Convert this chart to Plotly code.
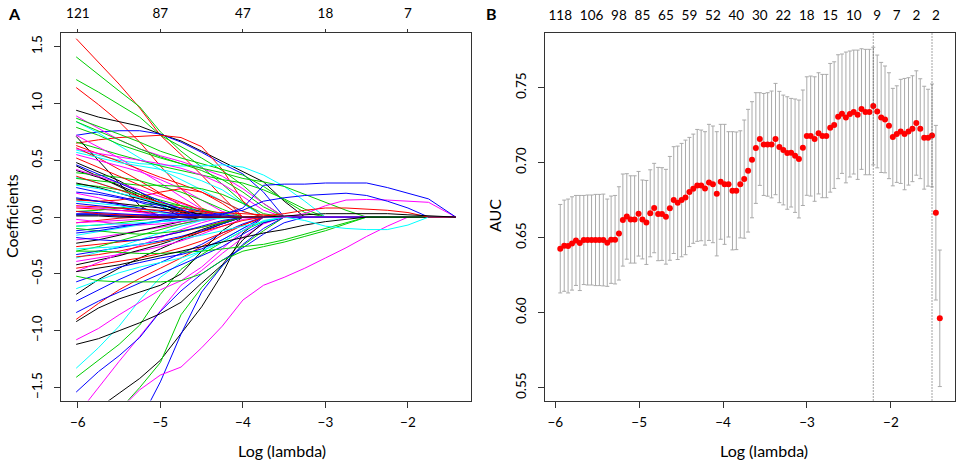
import plotly.graph_objects as go

# ---------------- Panel A: coefficient paths ----------------
# knots along log(lambda) where path values were read
path_knots = [-6.02, -5.75, -5.5, -5.25, -5.0, -4.75, -4.5, -4.25, -4.0, -3.75,
              -3.5, -3.25, -3.0, -2.75, -2.5, -2.25, -2.0, -1.75, -1.42]
df_ticks = [-6, -5, -4, -3, -2]
df_labels = ["121", "87", "47", "18", "7"]

# each list stops once the coefficient has dropped to zero
big_pos_colors = ["red", "green", "green", "red", "black", "blue", "red", "magenta",
                  "green", "cyan", "cyan", "green", "green", "magenta", "black",
                  "green", "red", "red", "cyan", "magenta", "magenta"]
big_pos_paths = [
    [1.57, 1.36, 1.17, 0.96, 0.72, 0.55, 0.37, 0.18, 0],
    [1.41, 1.25, 1.11, 0.97, 0.75, 0.58, 0.44, 0.29, 0.13, 0],
    [1.21, 1.10, 0.99, 0.88, 0.72, 0.62, 0.52, 0.41, 0.28, 0.12, 0],
    [1.14, 0.99, 0.84, 0.66, 0.45, 0.25, 0.08, 0],
    [0.94, 0.88, 0.84, 0.80, 0.73, 0.67, 0.58, 0.49, 0.40, 0.31, 0.14, 0],
    [0.72, 0.75, 0.76, 0.76, 0.73, 0.66, 0.57, 0.47, 0.38, 0.22, 0],
    [0.65, 0.68, 0.70, 0.71, 0.72, 0.70, 0.62, 0.42, 0.14, 0],
    [0.89, 0.78, 0.68, 0.60, 0.54, 0.49, 0.43, 0.36, 0.25, 0.12, 0],
    [0.87, 0.80, 0.73, 0.66, 0.58, 0.52, 0.47, 0.42, 0.37, 0.27, 0.15, 0.04, 0],
    [0.59, 0.54, 0.50, 0.47, 0.46, 0.45, 0.45, 0.46, 0.44, 0.37, 0.27, 0.14, 0],
    [0.84, 0.74, 0.63, 0.52, 0.42, 0.33, 0.24, 0.14, 0.05, 0],
    [0.79, 0.72, 0.64, 0.58, 0.52, 0.47, 0.43, 0.39, 0.34, 0.31, 0.27, 0.20, 0.13, 0.06, 0],
    [0.66, 0.60, 0.55, 0.50, 0.45, 0.41, 0.37, 0.33, 0.30, 0.24, 0.16, 0.07, 0],
    [0.72, 0.62, 0.52, 0.41, 0.30, 0.18, 0.07, 0],
    [0.71, 0.50, 0.30, 0.10, 0],
    [0.84, 0.76, 0.68, 0.60, 0.53, 0.47, 0.41, 0.33, 0.22, 0.09, 0],
    [0.61, 0.52, 0.42, 0.32, 0.21, 0.10, 0],
    [0.63, 0.56, 0.49, 0.42, 0.35, 0.29, 0.22, 0.14, 0.05, 0],
    [0.57, 0.52, 0.48, 0.45, 0.42, 0.38, 0.32, 0.24, 0.12, 0],
    [0.60, 0.56, 0.53, 0.50, 0.47, 0.43, 0.37, 0.29, 0.18, 0.06, 0],
    [0.55, 0.50, 0.45, 0.40, 0.33, 0.25, 0.15, 0.05, 0],
]

small_pos_colors = ["black", "black", "black", "green", "cyan", "green", "blue", "magenta",
                    "black", "red", "blue", "red", "green", "blue", "green", "magenta",
                    "black", "blue", "cyan", "red", "cyan", "magenta", "red", "blue",
                    "black", "red", "blue"]
small_pos_paths = [
    [0.48, 0.40, 0.32, 0.22, 0.12, 0.04, 0],
    [0.45, 0.36, 0.27, 0.18, 0.10, 0],
    [0.41, 0.35, 0.28, 0.20, 0.12, 0.05, 0],
    [0.39, 0.37, 0.35, 0.32, 0.27, 0.22, 0.15, 0.07, 0],
    [0.35, 0.30, 0.24, 0.17, 0.10, 0.03, 0],
    [0.29, 0.27, 0.24, 0.20, 0.15, 0.10, 0.05, 0],
    [0.22, 0.20, 0.17, 0.13, 0.08, 0.03, 0],
    [0.21, 0.17, 0.12, 0.06, 0],
    [0.16, 0.14, 0.12, 0.10, 0.08, 0.05, 0.03, 0.01, 0],
    [0.15, 0.14, 0.15, 0.18, 0.22, 0.25, 0.22, 0.12, 0],
    [0.12, 0.10, 0.08, 0.05, 0.02, 0],
    [0.08, 0.07, 0.06, 0.05, 0.04, 0.03, 0.02, 0],
    [0.05, 0.06, 0.08, 0.10, 0.12, 0.10, 0.07, 0.03, 0],
    [0.26, 0.22, 0.18, 0.14, 0.10, 0.08, 0.05, 0.02, 0],
    [0.34, 0.32, 0.30, 0.28, 0.28, 0.27, 0.25, 0.20, 0.12, 0.03, 0],
    [0.42, 0.36, 0.30, 0.24, 0.18, 0.12, 0.06, 0],
    [0.30, 0.26, 0.21, 0.16, 0.11, 0.06, 0.02, 0],
    [0.17, 0.14, 0.11, 0.08, 0.05, 0.02, 0],
    [0.14, 0.12, 0.10, 0.07, 0.04, 0],
    [0.10, 0.09, 0.08, 0.07, 0.06, 0.05, 0.05, 0.04, 0.03, 0.02, 0],
    [0.28, 0.25, 0.21, 0.17, 0.12, 0.08, 0.04, 0],
    [0.09, 0.08, 0.06, 0.04, 0.02, 0],
    [0.52, 0.44, 0.36, 0.28, 0.20, 0.13, 0.06, 0],
    [0.05, 0.04, 0.03, 0.02, 0],
    [0.02, 0.02, 0.01, 0],
    [0.36, 0.30, 0.24, 0.18, 0.13, 0.08, 0.04, 0],
    [0.46, 0.38, 0.30, 0.22, 0.14, 0.07, 0],
]

big_neg_colors = ["black", "green", "blue", "magenta", "blue", "green", "cyan", "black",
                  "magenta", "red", "black", "black", "blue", "blue", "cyan", "blue"]
big_neg_paths = [
    [-1.85, -1.68, -1.55, -1.42, -1.26, -1.03, -0.79, -0.50, -0.14, 0],
    [-2.20, -1.95, -1.70, -1.50, -1.28, -0.86, -0.62, -0.43, -0.25, -0.12, 0],
    [-2.80, -2.40, -2.10, -1.80, -1.45, -1.03, -0.66, -0.43, -0.24, -0.10, 0],
    [-1.75, -1.50, -1.27, -1.05, -0.83, -0.60, -0.47, -0.32, -0.18, -0.06, 0],
    [-1.54, -1.36, -1.22, -1.06, -0.83, -0.65, -0.50, -0.38, -0.27, -0.15, -0.05, 0],
    [-1.41, -1.26, -1.12, -0.95, -0.68, -0.46, -0.33, -0.22, -0.12, -0.04, 0],
    [-1.33, -1.15, -0.96, -0.73, -0.53, -0.40, -0.30, -0.20, -0.10, 0],
    [-1.12, -1.07, -1.00, -0.93, -0.85, -0.75, -0.58, -0.42, -0.20, -0.05, 0],
    [-1.08, -0.98, -0.86, -0.75, -0.64, -0.56, -0.44, -0.28, -0.12, 0],
    [-0.90, -0.76, -0.64, -0.54, -0.45, -0.36, -0.26, -0.16, -0.07, 0],
    [-0.92, -0.80, -0.72, -0.66, -0.60, -0.50, -0.30, -0.12, 0],
    [-0.68, -0.55, -0.45, -0.36, -0.28, -0.20, -0.13, -0.06, 0],
    [-0.84, -0.74, -0.66, -0.58, -0.50, -0.42, -0.34, -0.26, -0.15, -0.05, 0],
    [-0.74, -0.64, -0.55, -0.47, -0.40, -0.32, -0.24, -0.14, -0.06, 0],
    [-0.63, -0.56, -0.49, -0.44, -0.40, -0.36, -0.30, -0.22, -0.12, -0.03, 0],
    [-0.57, -0.50, -0.44, -0.40, -0.36, -0.33, -0.28, -0.20, -0.10, 0],
]

small_neg_colors = ["red", "green", "blue", "cyan", "magenta", "black", "red", "green",
                    "blue", "cyan", "magenta", "black", "red", "magenta", "green", "blue",
                    "cyan", "red", "magenta", "blue"]
small_neg_paths = [
    [-0.05, -0.03, -0.01, 0],
    [-0.08, -0.07, -0.05, -0.03, -0.01, 0],
    [-0.12, -0.10, -0.08, -0.06, -0.04, -0.02, 0],
    [-0.16, -0.13, -0.10, -0.07, -0.04, 0],
    [-0.20, -0.18, -0.15, -0.12, -0.09, -0.06, -0.03, 0],
    [-0.23, -0.20, -0.16, -0.12, -0.08, -0.04, 0],
    [-0.26, -0.24, -0.22, -0.20, -0.17, -0.13, -0.09, -0.04, 0],
    [-0.30, -0.26, -0.21, -0.16, -0.11, -0.06, -0.02, 0],
    [-0.33, -0.30, -0.27, -0.24, -0.21, -0.17, -0.12, -0.06, 0],
    [-0.36, -0.31, -0.26, -0.20, -0.14, -0.08, -0.03, 0],
    [-0.39, -0.36, -0.33, -0.30, -0.26, -0.21, -0.15, -0.08, -0.02, 0],
    [-0.42, -0.38, -0.34, -0.29, -0.24, -0.18, -0.11, -0.05, 0],
    [-0.45, -0.42, -0.39, -0.36, -0.32, -0.27, -0.21, -0.14, -0.07, 0],
    [-0.48, -0.40, -0.32, -0.25, -0.18, -0.11, -0.05, 0],
    [-0.10, -0.12, -0.14, -0.15, -0.14, -0.12, -0.09, -0.05, 0],
    [-0.18, -0.20, -0.21, -0.20, -0.17, -0.13, -0.08, -0.03, 0],
    [-0.28, -0.27, -0.26, -0.24, -0.22, -0.19, -0.16, -0.12, -0.08, -0.04, 0],
    [-0.35, -0.33, -0.30, -0.26, -0.22, -0.18, -0.13, -0.08, -0.03, 0],
    [-0.02, -0.04, -0.06, -0.07, -0.06, -0.04, -0.02, 0],
    [-0.14, -0.12, -0.09, -0.06, -0.03, 0],
]

# variables that stay in the model longest
late_colors = ["magenta", "green", "green", "black", "cyan", "magenta", "blue", "blue",
               "red", "black"]
late_paths = [
    [-2.10, -1.90, -1.70, -1.52, -1.39, -1.32, -1.15, -0.96, -0.73, -0.60,
     -0.53, -0.45, -0.36, -0.27, -0.17, -0.08, 0],
    [-0.52, -0.56, -0.57, -0.57, -0.57, -0.56, -0.50, -0.38, -0.30, -0.26,
     -0.22, -0.17, -0.12, -0.06, 0],
    [-0.30, -0.30, -0.31, -0.32, -0.32, -0.31, -0.30, -0.28, -0.26, -0.24,
     -0.20, -0.15, -0.10, -0.05, 0],
    [-0.48, -0.45, -0.42, -0.38, -0.34, -0.30, -0.26, -0.22, -0.18, -0.14,
     -0.11, -0.07, -0.04, -0.02, 0],
    [-0.08, -0.07, -0.06, -0.05, -0.04, -0.03, -0.02, -0.01, 0, 0,
     0, -0.03, -0.08, -0.10, -0.11, -0.11, -0.07, 0],
    [-0.05, -0.04, -0.03, -0.02, -0.01, 0, 0, 0, 0, 0,
     0, 0.03, 0.10, 0.15, 0.155, 0.15, 0.14, 0.13, 0],
    [0.03, 0.03, 0.02, 0.02, 0.02, 0.02, 0.02, 0.03, 0.06, 0.14,
     0.17, 0.19, 0.20, 0.21, 0.19, 0.14, 0.08, 0],
    [0.02, 0.02, 0.01, 0.01, 0.01, 0.01, 0.01, 0.02, 0.08, 0.28,
     0.29, 0.29, 0.30, 0.30, 0.30, 0.26, 0.21, 0.16, 0],
    [0.05, 0.03, 0.02, 0.01, 0, 0, 0, 0, 0, 0.01,
     0.03, 0.06, 0.08, 0.08, 0.07, 0.06, 0.04, 0],
    [0.01, 0.01, 0, 0, 0, 0, 0, 0, 0, 0,
     0.01, 0.02, 0.03, 0.03, 0.03, 0.03, 0.02, 0.01, 0],
]

# ---------------- Panel B: cross-validated AUC ----------------
log_lambda = [
    -5.940, -5.893, -5.847, -5.800, -5.753, -5.707, -5.660, -5.614, -5.567, -5.520,
    -5.474, -5.427, -5.380, -5.334, -5.287, -5.241, -5.194, -5.147, -5.101, -5.054,
    -5.007, -4.961, -4.914, -4.868, -4.821, -4.774, -4.728, -4.681, -4.634, -4.588,
    -4.541, -4.494, -4.448, -4.401, -4.355, -4.308, -4.261, -4.215, -4.168, -4.121,
    -4.075, -4.028, -3.982, -3.935, -3.888, -3.842, -3.795, -3.748, -3.702, -3.655,
    -3.609, -3.562, -3.515, -3.469, -3.422, -3.375, -3.329, -3.282, -3.235, -3.189,
    -3.142, -3.096, -3.049, -3.002, -2.956, -2.909, -2.862, -2.816, -2.769, -2.723,
    -2.676, -2.629, -2.583, -2.536, -2.489, -2.443, -2.396, -2.350, -2.303, -2.256,
    -2.210, -2.163, -2.116, -2.070, -2.023, -1.977, -1.930, -1.883, -1.837, -1.790,
    -1.743, -1.697, -1.650, -1.603, -1.557, -1.510, -1.464, -1.417]
auc_mean = [
    0.6427, 0.6447, 0.6445, 0.6462, 0.6482, 0.6465, 0.6485, 0.6485, 0.6485, 0.6485,
    0.6485, 0.6485, 0.6467, 0.6487, 0.6487, 0.6529, 0.6618, 0.6642, 0.6622, 0.6622,
    0.6660, 0.6622, 0.6602, 0.6663, 0.6698, 0.6658, 0.6658, 0.6640, 0.6696, 0.6751,
    0.6733, 0.6751, 0.6769, 0.6805, 0.6827, 0.6849, 0.6849, 0.6829, 0.6869, 0.6856,
    0.6793, 0.6873, 0.6856, 0.6856, 0.6813, 0.6813, 0.6856, 0.6891, 0.6947, 0.7020,
    0.7098, 0.7158, 0.7122, 0.7122, 0.7122, 0.7158, 0.7105, 0.7085, 0.7065, 0.7067,
    0.7047, 0.7025, 0.7100, 0.7178, 0.7178, 0.7158, 0.7196, 0.7178, 0.7178, 0.7233,
    0.7251, 0.7307, 0.7327, 0.7302, 0.7325, 0.7338, 0.7320, 0.7358, 0.7338, 0.7338,
    0.7378, 0.7342, 0.7302, 0.7289, 0.7247, 0.7171, 0.7191, 0.7209, 0.7191, 0.7209,
    0.7227, 0.7265, 0.7227, 0.7167, 0.7167, 0.7182, 0.6667, 0.5963]
auc_sd = [
    0.0295, 0.0304, 0.0313, 0.0311, 0.0300, 0.0317, 0.0297, 0.0300, 0.0300, 0.0304,
    0.0304, 0.0306, 0.0291, 0.0291, 0.0295, 0.0311, 0.0307, 0.0285, 0.0291, 0.0291,
    0.0282, 0.0263, 0.0280, 0.0290, 0.0298, 0.0311, 0.0309, 0.0316, 0.0346, 0.0356,
    0.0378, 0.0378, 0.0382, 0.0364, 0.0364, 0.0373, 0.0369, 0.0378, 0.0387, 0.0389,
    0.0414, 0.0383, 0.0400, 0.0351, 0.0394, 0.0392, 0.0357, 0.0394, 0.0409, 0.0387,
    0.0369, 0.0309, 0.0340, 0.0345, 0.0356, 0.0371, 0.0371, 0.0366, 0.0375, 0.0362,
    0.0378, 0.0393, 0.0385, 0.0395, 0.0400, 0.0415, 0.0404, 0.0411, 0.0411, 0.0429,
    0.0422, 0.0413, 0.0398, 0.0436, 0.0420, 0.0413, 0.0431, 0.0402, 0.0418, 0.0418,
    0.0392, 0.0376, 0.0367, 0.0356, 0.0353, 0.0325, 0.0322, 0.0347, 0.0371, 0.0358,
    0.0353, 0.0348, 0.0333, 0.0343, 0.0323, 0.0343, 0.0582, 0.0455]
# number of non-zero coefficients, shown above the lambdas R left room for
nz_labels = ["118", "106", "98", "85", "65", "59", "52", "40", "30", "22",
             "18", "15", "10", "9", "7", "2", "2"]
nz_label_idx = [0, 8, 15, 21, 27, 33, 39, 45, 51, 57, 63, 69, 75, 81, 86, 91, 96]
lambda_min_idx = 80
lambda_1se_idx = 95

R_COLORS = {"black": "#000000", "red": "#FF0000", "green": "#00CD00",
            "blue": "#0000FF", "cyan": "#00FFFF", "magenta": "#FF00FF"}

W, H = 957, 475
FONT = "Lato, 'Open Sans', sans-serif"
AXIS_COLOR = "#333333"


def px_x(p):
    return p / W


def px_y(p):
    return 1 - p / H


fig = go.Figure()

# coefficient paths
groups = [(big_pos_paths, big_pos_colors), (small_pos_paths, small_pos_colors),
          (big_neg_paths, big_neg_colors), (small_neg_paths, small_neg_colors),
          (late_paths, late_colors)]
for paths, colors in groups:
    for vals, col in zip(paths, colors):
        xs = path_knots[:len(vals)]
        ys = list(vals)
        if len(vals) < len(path_knots):
            xs = xs + [path_knots[-1]]
            ys = ys + [0]
        fig.add_trace(go.Scatter(
            x=xs, y=ys, mode="lines", xaxis="x", yaxis="y",
            line=dict(color=R_COLORS[col], width=1),
            hoverinfo="skip", showlegend=False))

# dummy traces so the top axes get drawn
fig.add_trace(go.Scatter(x=[None], y=[None], xaxis="x3", yaxis="y",
                         showlegend=False, hoverinfo="skip"))
fig.add_trace(go.Scatter(x=[None], y=[None], xaxis="x4", yaxis="y2",
                         showlegend=False, hoverinfo="skip"))

# AUC with error bars
fig.add_trace(go.Scatter(
    x=log_lambda, y=auc_mean, mode="markers", xaxis="x2", yaxis="y2",
    marker=dict(color="#FF0000", size=6),
    error_y=dict(type="data", array=auc_sd, symmetric=True,
                 color="#AAAAAA", thickness=1, width=2),
    showlegend=False))

# lambda.min and lambda.1se
for idx in (lambda_min_idx, lambda_1se_idx):
    fig.add_shape(type="line", xref="x2", yref="y2 domain",
                  x0=log_lambda[idx], x1=log_lambda[idx], y0=0, y1=1,
                  line=dict(color="#444444", width=1, dash="1px,2px"))

domA_x = [px_x(61), px_x(471)]
domB_x = [px_x(545), px_x(955)]
dom_y = [px_y(400.5), px_y(33)]

tick_font = dict(family=FONT, size=13.5, color="black")
common_axis = dict(showline=True, linecolor=AXIS_COLOR, linewidth=1, mirror=True,
                   ticks="outside", ticklen=6, tickcolor=AXIS_COLOR,
                   showgrid=False, zeroline=False, tickfont=tick_font)

fig.update_layout(
    width=W, height=H,
    margin=dict(l=0, r=0, t=0, b=0),
    paper_bgcolor="white", plot_bgcolor="white",
    font=dict(family=FONT, color="black"),
    xaxis=dict(domain=domA_x, anchor="y", range=[-6.204, -1.236],
               tickvals=[-6, -5, -4, -3, -2], ticklabelstandoff=3, **common_axis),
    yaxis=dict(domain=dom_y, anchor="x", range=[-1.614, 1.62],
               tickvals=[-1.5, -1.0, -0.5, 0.0, 0.5, 1.0, 1.5], tickformat=".1f",
               tickangle=-90, ticklabelstandoff=7, **common_axis),
    xaxis3=dict(overlaying="x", side="top", anchor="y", range=[-6.204, -1.236],
                tickvals=df_ticks, ticktext=df_labels, ticks="outside", ticklen=3,
                tickcolor=AXIS_COLOR, showline=False, showgrid=False, zeroline=False,
                tickfont=tick_font, ticklabelstandoff=6, tickangle=0),
    xaxis2=dict(domain=domB_x, anchor="y2", range=[-6.122, -1.236],
                tickvals=[-6, -5, -4, -3, -2], ticklabelstandoff=3, **common_axis),
    yaxis2=dict(domain=dom_y, anchor="x2", range=[0.5415, 0.7865],
                tickvals=[0.55, 0.60, 0.65, 0.70, 0.75], tickformat=".2f",
                tickangle=-90, ticklabelstandoff=7, **common_axis),
    xaxis4=dict(overlaying="x2", side="top", anchor="y2", range=[-6.122, -1.236],
                tickvals=[log_lambda[i] for i in nz_label_idx], ticktext=nz_labels,
                ticks="", showline=False, showgrid=False, zeroline=False,
                tickfont=tick_font, ticklabelstandoff=9, tickangle=0),
)

title_font = dict(family=FONT, size=16, color="black")
annotations = [
    dict(text="<b>A</b>", x=px_x(14), y=px_y(13)),
    dict(text="<b>B</b>", x=px_x(491), y=px_y(13)),
    dict(text="Coefficients", x=px_x(12), y=px_y(216), textangle=-90),
    dict(text="AUC", x=px_x(495), y=px_y(216), textangle=-90),
    dict(text="Log (lambda)", x=px_x(282), y=px_y(450)),
    dict(text="Log (lambda)", x=px_x(764), y=px_y(450)),
]
for a in annotations:
    fig.add_annotation(xref="paper", yref="paper", showarrow=False,
                       xanchor="center", yanchor="middle", font=title_font, **a)

# the page must not add its own margin around the fixed-size figure
fig.write_html("out.html", config={"displayModeBar": False},
               post_script="document.body.style.margin = '0';")
